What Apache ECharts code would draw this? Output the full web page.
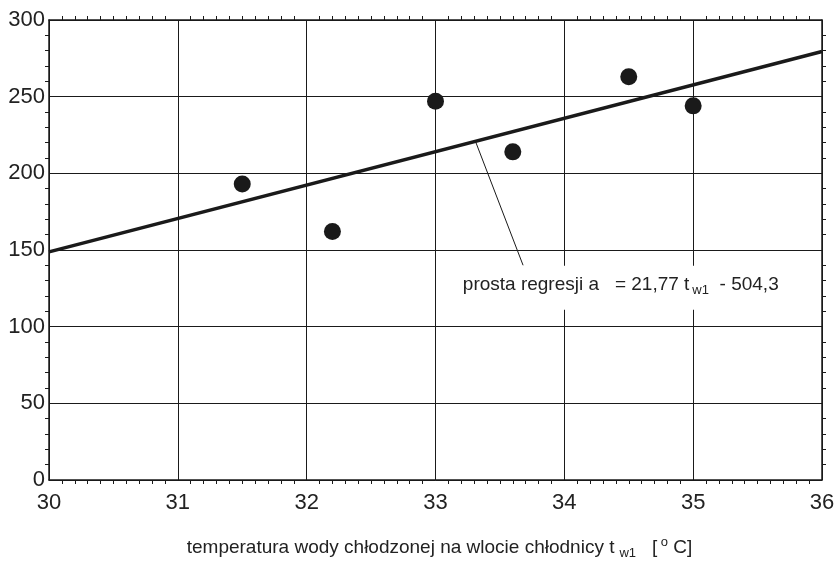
<!DOCTYPE html>
<html>
<head>
<meta charset="utf-8">
<script src="https://cdn.jsdelivr.net/npm/echarts@6/dist/echarts.min.js"></script>
<style>html,body{margin:0;padding:0;background:#fff;}#c{width:839px;height:565px;}</style>
</head>
<body>
<div id="c"></div>
<script>
// Measured points
var tempX = [31.5, 32.2, 33.0, 33.6, 34.5, 35.0];
var valY = [193, 162, 247, 214, 263, 244];
// Regression from the chart's label: a = 21.77 t - 504.3
var regSlope = 21.77;
var regIntercept = -504.3;
var regX = [30, 36];
// Leader line of the annotation (data coords)
var leaderX = [33.31, 33.68];
var leaderY = [220.9, 140];
// Annotation anchor
var annX = [33.15];
var annY = [125.3];
var xTicks = [30, 31, 32, 33, 34, 35, 36];
var yTicks = [0, 50, 100, 150, 200, 250, 300];

var FONT = 'Liberation Sans, Arial, sans-serif';
var INK = '#1a1a1a';
var TXT = '#222';

var chart = echarts.init(document.getElementById('c'));
var scatterData = tempX.map(function (x, i) { return [x, valY[i]]; });
var regData = regX.map(function (x) { return [x, regSlope * x + regIntercept]; });
var leaderData = leaderX.map(function (x, i) { return [x, leaderY[i]]; });
var annData = annX.map(function (x, i) { return [x, annY[i]]; });

chart.setOption({
  animation: false,
  backgroundColor: '#fff',
  grid: { left: 49, right: 17, top: 20, bottom: 83, containLabel: false },
  xAxis: [{
    type: 'value', min: 30, max: 36, interval: 1, position: 'bottom',
    axisLine: { show: true, onZero: false, lineStyle: { color: INK, width: 1.5 } },
    axisTick: { show: false },
    minorTick: { show: true, splitNumber: 10, length: 4, inside: true, lineStyle: { color: INK, width: 1 } },
    splitLine: { show: true, lineStyle: { color: INK, width: 1 } },
    axisLabel: { fontFamily: FONT, fontSize: 22, color: TXT, margin: 12,
      formatter: function (v) { return xTicks.indexOf(v) >= 0 ? String(v) : ''; } },
    name: '{a|temperatura wody chłodzonej na wlocie chłodnicy t}{s|w1}{a|   [}{o| o}{a| C]}',
    nameLocation: 'middle', nameGap: 56,
    nameTextStyle: {
      padding: [0, 0, 0, 8],
      rich: {
        a: { fontFamily: FONT, fontSize: 19, color: TXT, lineHeight: 24, verticalAlign: 'middle' },
        s: { fontFamily: FONT, fontSize: 13, color: TXT, lineHeight: 12, verticalAlign: 'bottom', padding: [0, 0, 0, 5] },
        o: { fontFamily: FONT, fontSize: 13, color: TXT, lineHeight: 14, verticalAlign: 'top' }
      }
    }
  }, {
    type: 'value', min: 30, max: 36, interval: 1, position: 'top',
    axisLine: { show: true, onZero: false, lineStyle: { color: INK, width: 1.5 } },
    axisTick: { show: false },
    minorTick: { show: true, splitNumber: 10, length: 4, inside: true, lineStyle: { color: INK, width: 1 } },
    splitLine: { show: false },
    axisLabel: { show: false }
  }],
  yAxis: [{
    type: 'value', min: 0, max: 300, interval: 50, position: 'left',
    axisLine: { show: true, onZero: false, lineStyle: { color: INK, width: 1.5 } },
    axisTick: { show: false },
    minorTick: { show: true, splitNumber: 5, length: 4, inside: true, lineStyle: { color: INK, width: 1 } },
    splitLine: { show: true, lineStyle: { color: INK, width: 1 } },
    axisLabel: { fontFamily: FONT, fontSize: 22, color: TXT, margin: 4,
      formatter: function (v) { return yTicks.indexOf(v) >= 0 ? String(v) : ''; } }
  }, {
    type: 'value', min: 0, max: 300, interval: 50, position: 'right',
    axisLine: { show: true, onZero: false, lineStyle: { color: INK, width: 1.5 } },
    axisTick: { show: false },
    minorTick: { show: true, splitNumber: 5, length: 4, inside: true, lineStyle: { color: INK, width: 1 } },
    splitLine: { show: false },
    axisLabel: { show: false }
  }],
  series: [{
    type: 'line', data: leaderData, symbol: 'none', silent: true, z: 3,
    lineStyle: { color: INK, width: 1 }
  }, {
    type: 'line', data: regData, symbol: 'none', silent: true, z: 4,
    lineStyle: { color: INK, width: 3.5 }
  }, {
    type: 'scatter', data: scatterData, symbol: 'circle', symbolSize: 17, z: 5,
    itemStyle: { color: INK, opacity: 1 }
  }, {
    type: 'scatter', data: annData, symbolSize: 0, z: 6, silent: true,
    itemStyle: { opacity: 1 },
    label: {
      show: true, position: 'right', distance: 0,
      backgroundColor: '#fff', padding: [7, 8, 13, 8],
      formatter: '{a|prosta regresji a   = 21,77 t}{s|w1}{a|  - 504,3}',
      rich: {
        a: { fontFamily: FONT, fontSize: 19, color: TXT, lineHeight: 24, verticalAlign: 'middle' },
        s: { fontFamily: FONT, fontSize: 13, color: TXT, lineHeight: 12, verticalAlign: 'bottom', padding: [0, 0, 0, 3] }
      }
    }
  }]
});
</script>
</body>
</html>
